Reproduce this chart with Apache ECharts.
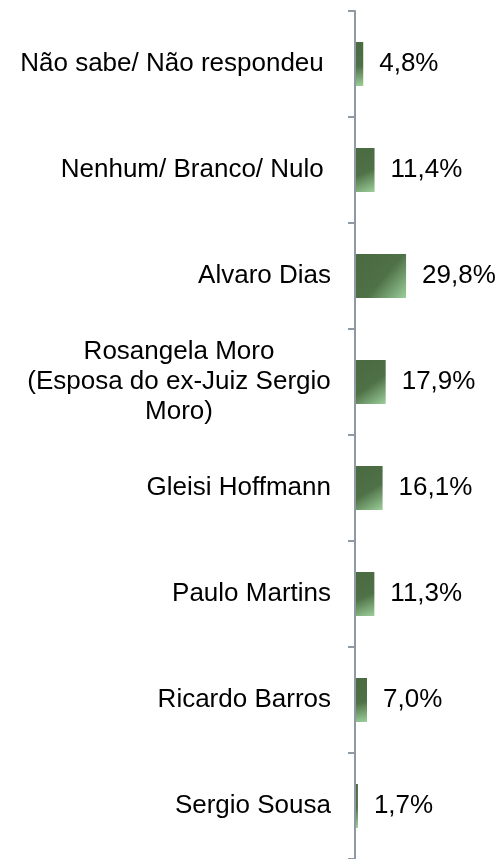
<!DOCTYPE html>
<html>
<head>
<meta charset="utf-8">
<script src="https://cdn.jsdelivr.net/npm/echarts@6/dist/echarts.min.js"></script>
<style>
html,body{margin:0;padding:0;background:#fff;}
#chart{width:499px;height:859px;}
</style>
</head>
<body>
<div id="chart"></div>
<script>
const categories = [
  "Não sabe/ Não respondeu ",
  "Nenhum/ Branco/ Nulo ",
  "Alvaro Dias",
  "Rosangela Moro\n(Esposa do ex-Juiz Sergio\nMoro)",
  "Gleisi Hoffmann",
  "Paulo Martins",
  "Ricardo Barros",
  "Sergio Sousa"
];
const values = [4.8, 11.4, 29.8, 17.9, 16.1, 11.3, 7.0, 1.7];

const FONT = '"Liberation Sans", Arial, sans-serif';
const FS = 26;
const ctx = document.createElement('canvas').getContext('2d');
ctx.font = FS + 'px ' + FONT;
function widest(lines) {
  return Math.ceil(Math.max.apply(null, lines.map(l => ctx.measureText(l).width)));
}

const chart = echarts.init(document.getElementById('chart'));
chart.setOption({
  animation: false,
  backgroundColor: '#ffffff',
  grid: { left: 355, right: 0, top: 11, bottom: -3, containLabel: false },
  xAxis: {
    type: 'value', min: 0, max: 84, show: false
  },
  yAxis: {
    type: 'category',
    data: categories,
    inverse: true,
    z: 5,
    axisLine: { show: true, lineStyle: { color: '#8f99a3', width: 2 } },
    axisTick: { show: true, length: 7, alignWithLabel: false, lineStyle: { color: '#8f99a3', width: 2 } },
    axisLabel: {
      margin: 24,
      color: '#000',
      fontFamily: FONT,
      fontSize: FS,
      lineHeight: 30,
      align: 'right',
      formatter: function (v) {
        if (v.indexOf('\n') < 0) return v;
        const lines = v.split('\n');
        const w = widest(lines);
        return lines.map(l => '{c' + w + '|' + l + '}').join('\n');
      },
      rich: (function () {
        const r = {};
        categories.forEach(c => {
          if (c.indexOf('\n') >= 0) {
            const w = widest(c.split('\n'));
            r['c' + w] = { width: w, align: 'center', color: '#000', fontFamily: FONT, fontSize: FS, lineHeight: 30 };
          }
        });
        return r;
      })()
    },
    splitLine: { show: false }
  },
  series: [{
    type: 'bar',
    data: values,
    barWidth: 44,
    itemStyle: {
      color: new echarts.graphic.LinearGradient(0, 0, 1, 1, [
        { offset: 0, color: '#4a6a42' },
        { offset: 0.55, color: '#4f7147' },
        { offset: 1, color: '#9ccf9a' }
      ])
    },
    label: {
      show: true,
      position: 'right',
      distance: 16,
      color: '#000',
      fontFamily: FONT,
      fontSize: FS,
      formatter: p => p.value.toFixed(1).replace('.', ',') + '%'
    }
  }]
});
</script>
</body>
</html>
